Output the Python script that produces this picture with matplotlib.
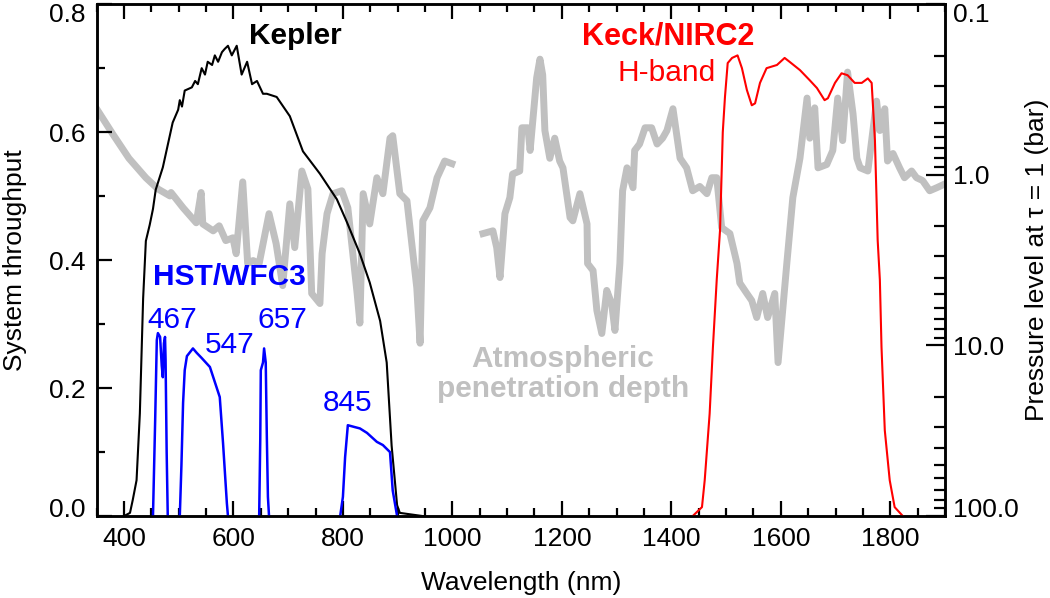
import numpy as np
import matplotlib
matplotlib.use("Agg")
import matplotlib.pyplot as plt
from matplotlib.ticker import MultipleLocator, FixedLocator, NullFormatter
from matplotlib.transforms import ScaledTranslation

plt.rcParams["font.family"] = ["Liberation Sans", "DejaVu Sans"]

# ---- Kepler bandpass (wavelength nm, throughput) ----
kep_wl = [400, 411, 416, 423, 429, 435, 440, 447, 453, 458, 471, 480, 489, 499,
          502, 506, 511, 524, 530, 535, 542, 548, 553, 561, 566, 572, 579, 584,
          590, 597, 606, 615, 625, 634, 643, 654, 661, 679, 703, 727, 758, 789,
          807, 831, 849, 868, 880, 889, 899, 904, 946]
kep_tp = [0.0, 0.005, 0.025, 0.056, 0.16, 0.34, 0.43, 0.455, 0.48, 0.51, 0.545,
          0.58, 0.615, 0.635, 0.65, 0.64, 0.665, 0.67, 0.68, 0.675, 0.70, 0.69,
          0.71, 0.705, 0.72, 0.71, 0.725, 0.73, 0.735, 0.72, 0.735, 0.69, 0.71,
          0.675, 0.68, 0.66, 0.66, 0.655, 0.625, 0.57, 0.535, 0.495, 0.46, 0.41,
          0.365, 0.305, 0.24, 0.11, 0.017, 0.005, 0.0]

# ---- HST/WFC3 filters ----
f467_wl = [453, 457, 460, 462, 466, 469, 471, 473, 475, 476, 478, 480]
f467_tp = [0.0, 0.15, 0.275, 0.286, 0.28, 0.235, 0.217, 0.27, 0.28, 0.245, 0.10, 0.0]
f547_wl = [502, 505, 508, 511, 515, 526, 533, 542, 557, 575, 581, 588, 590]
f547_tp = [0.0, 0.08, 0.177, 0.228, 0.25, 0.262, 0.255, 0.247, 0.233, 0.186,
           0.114, 0.02, 0.0]
f657_wl = [647, 649, 650, 654, 656, 659, 661, 663, 665]
f657_tp = [0.0, 0.12, 0.228, 0.24, 0.262, 0.24, 0.124, 0.03, 0.0]
f845_wl = [795, 800, 804, 809, 822, 831, 844, 862, 873, 886, 891, 899]
f845_tp = [0.0, 0.03, 0.092, 0.142, 0.139, 0.137, 0.13, 0.116, 0.111, 0.10, 0.04, 0.0]

# ---- Keck/NIRC2 H-band ----
hband_wl = [1439, 1456, 1461, 1470, 1476, 1483, 1489, 1494, 1498, 1503, 1511,
            1521, 1529, 1538, 1547, 1553, 1562, 1574, 1593, 1607, 1616, 1635,
            1653, 1666, 1680, 1686, 1699, 1711, 1722, 1735, 1748, 1759, 1766,
            1772, 1777, 1781, 1784, 1790, 1799, 1808, 1823]
hband_tp = [0.0, 0.014, 0.056, 0.16, 0.264, 0.37, 0.447, 0.60, 0.655, 0.708,
            0.716, 0.72, 0.70, 0.666, 0.642, 0.645, 0.677, 0.70, 0.705, 0.716,
            0.71, 0.697, 0.681, 0.669, 0.65, 0.653, 0.677, 0.692, 0.689, 0.677,
            0.677, 0.684, 0.677, 0.587, 0.431, 0.369, 0.264, 0.134, 0.056, 0.014,
            0.0]

# ---- atmospheric penetration depth (pressure at tau = 1, bar) ----
atm1_wl = [350, 380, 409, 440, 462, 484, 486, 508, 532, 541, 544, 563, 574, 586,
           599, 605, 617, 626, 636, 647, 665, 678, 690, 703, 712, 725, 736, 743,
           758, 762, 771, 782, 798, 809, 826, 831, 837, 849, 862, 873, 886, 891,
           904, 917, 935, 941, 946, 959, 972, 986, 999]
atm1_p = [0.41, 0.58, 0.80, 1.04, 1.21, 1.33, 1.27, 1.56, 1.91, 1.27, 1.94, 2.13,
          1.99, 2.43, 2.34, 2.90, 1.10, 3.31, 3.18, 3.31, 1.69, 2.53, 4.46, 1.48,
          2.67, 0.95, 1.21, 4.96, 5.68, 2.90, 1.69, 1.29, 1.24, 1.56, 4.96, 7.4,
          1.29, 1.94, 1.04, 1.29, 0.61, 0.59, 1.29, 1.42, 4.6, 9.7, 1.86, 1.56,
          1.04, 0.83, 0.86]
atm2_wl = [1056, 1074, 1081, 1087, 1096, 1105, 1110, 1123, 1127, 1138, 1142, 1154,
           1160, 1165, 1169, 1178, 1187, 1196, 1202, 1215, 1220, 1233, 1246, 1247,
           1257, 1264, 1273, 1282, 1291, 1297, 1306, 1311, 1319, 1330, 1333, 1342,
           1352, 1364, 1374, 1384, 1392, 1403, 1416, 1428, 1439, 1452, 1465, 1474,
           1483, 1492, 1507, 1520, 1525, 1538, 1547, 1556, 1567, 1576, 1589, 1595,
           1611, 1622, 1635, 1648, 1653, 1662, 1668, 1684, 1695, 1704, 1713, 1722,
           1732, 1739, 1745, 1759, 1766, 1775, 1781, 1790, 1795, 1805, 1817, 1826,
           1839, 1848, 1859, 1872, 1885, 1900]
atm2_p = [2.21, 2.13, 2.67, 4.0, 1.69, 1.36, 0.99, 0.95, 0.53, 0.53, 0.72, 0.27,
          0.21, 0.26, 0.55, 0.80, 0.61, 0.83, 0.91, 1.78, 1.86, 1.29, 1.94, 3.31,
          3.64, 6.24, 8.51, 4.76, 5.68, 8.17, 3.31, 1.24, 0.91, 1.19, 0.72, 0.66,
          0.53, 0.53, 0.66, 0.61, 0.55, 0.41, 0.80, 0.91, 1.24, 1.17, 1.29, 1.04,
          1.04, 2.04, 2.21, 3.31, 4.3, 4.96, 5.46, 6.86, 4.96, 6.86, 4.96, 12.6,
          3.31, 1.36, 0.80, 0.355, 0.61, 0.405, 0.91, 0.87, 0.72, 0.355, 0.63, 0.25,
          0.44, 0.80, 0.91, 0.95, 0.63, 0.37, 0.55, 0.41, 0.83, 0.75, 0.91, 1.04,
          0.95, 1.04, 1.08, 1.24, 1.19, 1.13]

hst_labels = ["467", "547", "657", "845"]
hst_label_pos = [(489, 0.306), (594, 0.267), (689, 0.306), (809, 0.176)]

GRAY = "#c0c0c0"
BLUE = "#0000ff"
RED = "#ff0000"

fig = plt.figure(figsize=(10.5, 5.98), dpi=100)
ax = fig.add_axes([0.092, 0.137, 0.808, 0.856])
ax2 = ax.twinx()
ax.set_zorder(ax2.get_zorder() + 1)
ax.patch.set_visible(False)

# gray penetration depth on right (log, inverted) axis
ax2.plot(atm1_wl, atm1_p, color=GRAY, lw=5, solid_joinstyle="round")
ax2.plot(atm2_wl, atm2_p, color=GRAY, lw=5, solid_joinstyle="round")
ax2.set_yscale("log")
ax2.set_ylim(100, 0.1)

ax.plot(kep_wl, kep_tp, color="black", lw=1.5)
for wl, tp in [(f467_wl, f467_tp), (f547_wl, f547_tp), (f657_wl, f657_tp), (f845_wl, f845_tp)]:
    ax.plot(wl, tp, color=BLUE, lw=1.8)
ax.plot(hband_wl, hband_tp, color=RED, lw=1.5)

ax.set_xlim(350, 1900)
ax.set_ylim(0, 0.8)

tfs = 21.5
ax.text(714, 0.75, "Kepler", color="black", fontsize=tfs, fontweight="bold", ha="center", va="center")
ax.text(592, 0.373, "HST/WFC3", color=BLUE, fontsize=tfs, fontweight="bold", ha="center", va="center")
for lab, (x, y) in zip(hst_labels, hst_label_pos):
    ax.text(x, y, lab, color=BLUE, fontsize=tfs, ha="center", va="center")
ax.text(1394, 0.75, "Keck/NIRC2", color=RED, fontsize=22, fontweight="bold", ha="center", va="center")
ax.text(1392, 0.692, "H-band", color=RED, fontsize=tfs, ha="center", va="center")
ax.text(1202, 0.222, "Atmospheric\npenetration depth", color=GRAY, fontsize=tfs,
        fontweight="bold", ha="center", va="center", linespacing=1.05)

# ticks and labels
fs = 19
ax.xaxis.set_major_locator(MultipleLocator(200))
ax.xaxis.set_minor_locator(MultipleLocator(50))
ax.yaxis.set_minor_locator(MultipleLocator(0.1))
ax.set_yticks([0, 0.2, 0.4, 0.6, 0.8])
ax.set_yticklabels(["0.0", "0.2", "0.4", "0.6", "0.8"])
ax.tick_params(which="both", direction="in", width=1.6, labelsize=fs,
               top=True, right=False)
ax.tick_params(which="major", length=11, pad=8)
ax.tick_params(which="minor", length=6)

ax2.set_yticks([0.1, 1, 10, 100])
ax2.set_yticklabels(["0.1", "1.0", "10.0", "100.0"])
ax2.yaxis.set_minor_locator(FixedLocator([m * 10.0 ** e for e in (-1, 0, 1) for m in range(2, 10)]))
ax2.yaxis.set_minor_formatter(NullFormatter())
ax2.tick_params(which="both", direction="in", width=1.6, labelsize=fs)
ax2.tick_params(which="major", length=14, pad=6)
ax2.tick_params(which="minor", length=8)

# keep the end labels inside the figure, as in the original
down = ScaledTranslation(0, -6 / 72, fig.dpi_scale_trans)
up = ScaledTranslation(0, 6 / 72, fig.dpi_scale_trans)
ylabs = ax.get_yticklabels()
ylabs[-1].set_transform(ylabs[-1].get_transform() + down)
ylabs[0].set_transform(ylabs[0].get_transform() + up)
rlabs = ax2.get_yticklabels()
rlabs[0].set_transform(rlabs[0].get_transform() + down)
rlabs[-1].set_transform(rlabs[-1].get_transform() + up)

for a in (ax, ax2):
    for s in a.spines.values():
        s.set_linewidth(1.8)

ax.set_xlabel("Wavelength (nm)", fontsize=fs, labelpad=14)
ax.set_ylabel("System throughput", fontsize=fs, labelpad=16)
ax2.set_ylabel("Pressure level at \u03c4 = 1 (bar)", fontsize=fs, labelpad=4)

fig.savefig("out.png", dpi=100)
